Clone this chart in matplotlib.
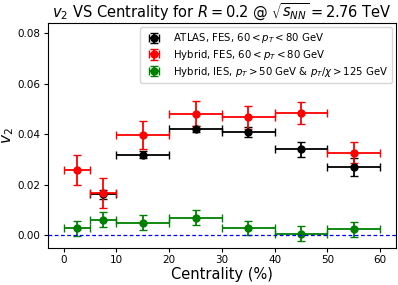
import matplotlib
matplotlib.use("Agg")
import matplotlib.pyplot as plt
import numpy as np

cent = [2.5, 7.5, 15, 25, 35, 45, 55]
cent_err = [2.5, 2.5, 5, 5, 5, 5, 5]

atlas_x = [7.5, 15, 25, 35, 45, 55]
atlas_xerr = [2.5, 5, 5, 5, 5, 5]
atlas_v2 = [0.0161, 0.0319, 0.0420, 0.0410, 0.0340, 0.0270]
atlas_err = [0.0018, 0.0015, 0.0013, 0.0020, 0.0030, 0.0035]

fes_v2 = [0.0258, 0.0168, 0.0396, 0.0482, 0.0468, 0.0484, 0.0327]
fes_err = [0.0058, 0.0060, 0.0055, 0.0050, 0.0046, 0.0044, 0.0042]

ies_v2 = [0.0027, 0.0061, 0.0049, 0.0069, 0.0029, 0.0005, 0.0023]
ies_err = [0.0030, 0.0030, 0.0030, 0.0030, 0.0027, 0.0030, 0.0030]

fig, ax = plt.subplots(figsize=(3.98, 2.85), dpi=100)
ax.errorbar(atlas_x, atlas_v2, xerr=atlas_xerr, yerr=atlas_err, fmt='o', color='black',
            ms=5, capsize=3, lw=1.3, label=r'ATLAS, FES, $60 < p_T < 80$ GeV')
ax.errorbar(cent, fes_v2, xerr=cent_err, yerr=fes_err, fmt='o', color='red',
            ms=5, capsize=3, lw=1.3, label=r'Hybrid, FES, $60 < p_T < 80$ GeV')
ax.errorbar(cent, ies_v2, xerr=cent_err, yerr=ies_err, fmt='o', color='green',
            ms=5, capsize=3, lw=1.3, label=r'Hybrid, IES, $p_T > 50$ GeV & $p_T/\chi > 125$ GeV')
ax.axhline(0, color='blue', ls=(0, (3, 2)), lw=0.9, zorder=5)
ax.set_xlim(-3, 63)
ax.set_ylim(-0.005, 0.084)
ax.set_yticks([0.0, 0.02, 0.04, 0.06, 0.08])
ax.tick_params(labelsize=7.5, length=3, pad=2.5)
ax.set_xlabel('Centrality (%)', fontsize=10.5, labelpad=1)
ax.set_ylabel(r'$v_2$', fontsize=11, labelpad=1)
ax.set_title(r'$v_2$ VS Centrality for $R=0.2$ @ $\sqrt{s_{NN}}=2.76$ TeV', fontsize=10.5, pad=5)
ax.legend(loc='upper right', fontsize=7.3, labelspacing=0.25, borderaxespad=0.4)
fig.subplots_adjust(left=0.12, right=0.995, top=0.918, bottom=0.131)
fig.savefig('out.png', dpi=100)
